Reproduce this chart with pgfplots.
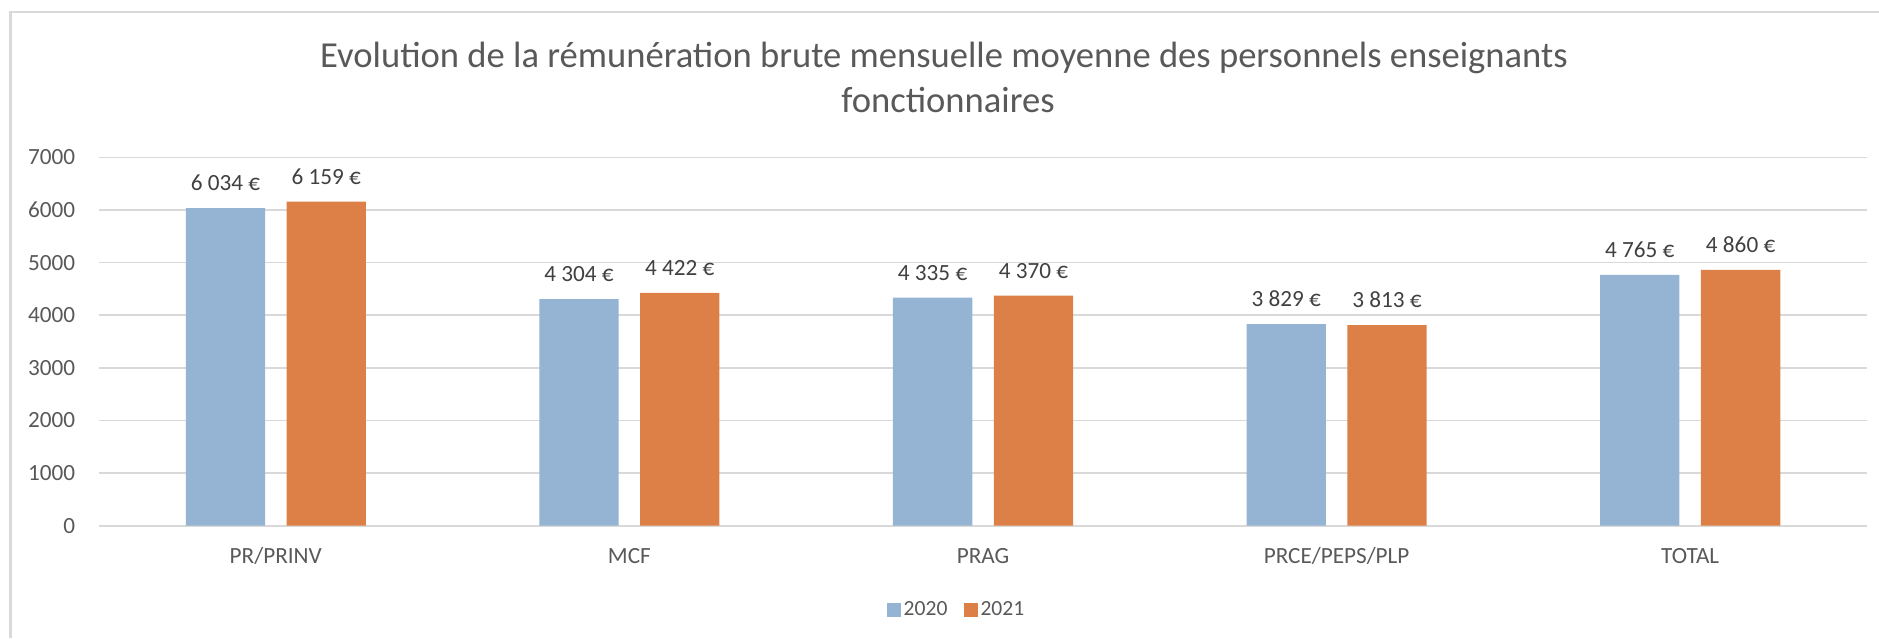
\documentclass[border=0pt]{standalone}
\usepackage{fontspec}
\setmainfont{Carlito}
\usepackage{pgfplots}
\pgfplotsset{compat=1.18}
\definecolor{bar20}{HTML}{95B4D3}
\definecolor{bar21}{HTML}{DD8047}
\definecolor{txtgray}{HTML}{595959}
\definecolor{lblgray}{HTML}{404040}
\definecolor{gridgray}{HTML}{D9D9D9}

\begin{document}
\begin{tikzpicture}
\path[use as bounding box] (0,0) rectangle (939.5pt,319pt);
% chart frame (top and left edges only visible)
\draw[gridgray, line width=1.2pt] (5.25pt,0) -- (5.25pt,313pt) -- (939.5pt,313pt);

\begin{axis}[
  at={(49.5pt,56.15pt)}, anchor=south west,
  scale only axis,
  width=884pt, height=184.2pt,
  ybar=10.75pt, bar width=39.65pt,
  xmin=-0.5, xmax=4.5,
  ymin=0, ymax=7000,
  xtick=data,
  xticklabels={PR/PRINV,MCF,PRAG,PRCE/PEPS/PLP,TOTAL},
  ytick={0,1000,...,7000},
  /pgf/number format/assume math mode=true,
  /pgf/number format/1000 sep={},
  axis line style={draw=none},
  major tick length=0pt,
  ymajorgrids,
  grid style={draw=gridgray, line width=0.8pt},
  tick label style={font=\fontsize{11.6}{13}\selectfont, text=txtgray},
  yticklabel style={anchor=east, inner sep=0pt, xshift=-11.75pt},
  xticklabel style={anchor=base, inner sep=0pt, yshift=-18.8pt},
  nodes near coords={\pgfmathprintnumber[assume math mode=true,1000 sep={\ }]{\pgfplotspointmeta}\ €},
  every node near coord/.append style={anchor=base, inner sep=0pt, yshift=8.75pt,
    font=\fontsize{11.6}{13}\selectfont, text=lblgray},
  legend columns=2,
  legend style={at={(axis description cs:0.4853,-0.228)}, anchor=center,
    draw=none, fill=none, inner sep=0pt,
    font=\fontsize{10.8}{12}\selectfont, text=txtgray,
    nodes={inner xsep=1.5pt, inner ysep=0pt},
    /tikz/every even column/.append style={column sep=6.5pt}},
  legend image code/.code={\fill[#1] (0pt,-3.5pt) rectangle (7pt,3.5pt);},
  clip=false,
]
\addplot[fill=bar20, draw=none] coordinates {(0,6034) (1,4304) (2,4335) (3,3829) (4,4765)};
\addplot[fill=bar21, draw=none] coordinates {(0,6159) (1,4422) (2,4370) (3,3813) (4,4860)};
\legend{2020,2021}
\end{axis}

\node[anchor=base, inner sep=0pt, text=txtgray, font=\fontsize{18.3}{21}\selectfont]
  at (472pt,285.35pt) {Evolution de la rémunération brute mensuelle moyenne des personnels enseignants};
\node[anchor=base, inner sep=0pt, text=txtgray, font=\fontsize{18.3}{21}\selectfont]
  at (474pt,262.5pt) {fonctionnaires};
\end{tikzpicture}
\end{document}
